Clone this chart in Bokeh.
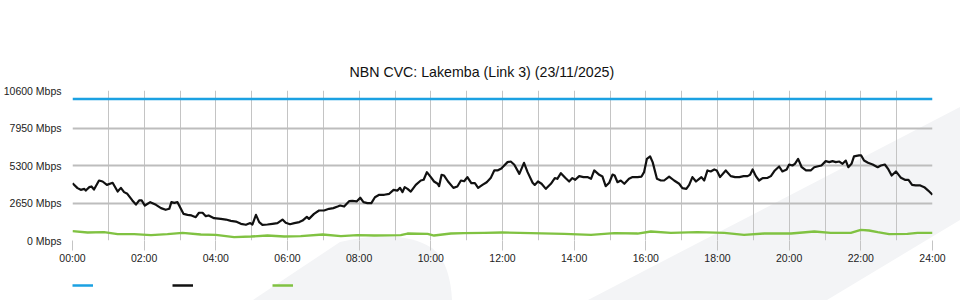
from urllib.parse import quote

from bokeh.plotting import figure
from bokeh.layouts import column
from bokeh.models import FixedTicker, Legend, LegendItem
from bokeh.core.properties import value
from bokeh.embed import file_html
from bokeh.resources import INLINE

# ---------------- data ----------------
title_text = "NBN CVC: Lakemba (Link 3) (23/11/2025)"

capacity_hours = [0, 24]
capacity_mbps = [10000, 10000]

black_hours = [
    0.00, 0.14, 0.23, 0.33, 0.37, 0.47, 0.53, 0.60, 0.74, 0.84, 0.96, 1.12, 1.26, 1.35, 1.44, 1.53,
    1.67, 1.77, 1.86, 1.93, 2.02, 2.17, 2.33, 2.47, 2.60, 2.70, 2.76, 2.84, 2.93, 3.10, 3.21, 3.32,
    3.44, 3.53, 3.63, 3.72, 3.80, 3.95, 4.14, 4.28, 4.42, 4.56, 4.70, 4.84, 4.96, 5.02, 5.12, 5.21,
    5.30, 5.44, 5.58, 5.72, 5.86, 5.95, 6.07, 6.19, 6.33, 6.42, 6.54, 6.60, 6.74, 6.88, 7.02, 7.16,
    7.28, 7.40, 7.47, 7.58, 7.72, 7.81, 7.93, 8.03, 8.12, 8.23, 8.34, 8.44, 8.56, 8.70, 8.84, 8.96,
    9.07, 9.14, 9.21, 9.27, 9.35, 9.44, 9.58, 9.72, 9.80, 9.89, 10.00, 10.09, 10.19, 10.23, 10.30,
    10.37, 10.48, 10.63, 10.74, 10.84, 10.93, 11.02, 11.13, 11.23, 11.32, 11.44, 11.56, 11.67, 11.77,
    11.86, 11.98, 12.00, 12.14, 12.23, 12.33, 12.47, 12.60, 12.70, 12.84, 12.90, 12.99, 13.09, 13.21,
    13.35, 13.46, 13.53, 13.63, 13.75, 13.86, 13.95, 14.03, 14.14, 14.26, 14.37, 14.47, 14.56, 14.70,
    14.79, 14.88, 14.98, 15.07, 15.13, 15.21, 15.30, 15.40, 15.53, 15.63, 15.77, 15.88, 15.95, 16.03,
    16.12, 16.19, 16.31, 16.42, 16.51, 16.65, 16.79, 16.93, 17.02, 17.13, 17.21, 17.30, 17.40, 17.49,
    17.55, 17.63, 17.72, 17.81, 17.91, 17.98, 18.07, 18.23, 18.37, 18.49, 18.61, 18.73, 18.84, 18.91,
    18.98, 19.07, 19.16, 19.26, 19.40, 19.49, 19.60, 19.72, 19.81, 19.93, 20.00, 20.09, 20.16, 20.25,
    20.35, 20.47, 20.60, 20.70, 20.81, 20.90, 21.02, 21.12, 21.21, 21.30, 21.40, 21.49, 21.58, 21.65,
    21.74, 21.81, 21.95, 22.01, 22.09, 22.20, 22.33, 22.47, 22.56, 22.67, 22.77, 22.86, 22.98, 23.12,
    23.23, 23.33, 23.43, 23.53, 23.66, 23.77, 23.88, 24.00,
]
black_mbps = [
    4050, 3700, 3580, 3650, 3530, 3770, 3820, 3600, 4240, 4170, 3930, 4080, 3460, 3720, 3420, 3300,
    2830, 2540, 2830, 2830, 2470, 2710, 2520, 2290, 2170, 2240, 2710, 2660, 2710, 1880, 1810, 1770,
    1650, 1960, 1960, 1720, 1770, 1580, 1530, 1480, 1390, 1340, 1180, 1110, 1230, 1130, 1810, 1300,
    1110, 1130, 1180, 1230, 1480, 1250, 1150, 1230, 1300, 1410, 1670, 1530, 1880, 2120, 2120, 2240,
    2290, 2400, 2470, 2400, 2780, 2800, 2760, 3020, 2710, 2640, 2640, 3060, 3230, 3230, 3300, 3580,
    3530, 3720, 3420, 3770, 3650, 3460, 3930, 4240, 4290, 4830, 4480, 4170, 4010, 3840, 4640,
    4590, 4170, 3720, 3820, 4240, 4190, 4480, 4050, 4050, 3720, 3930, 4120, 4410, 4950,
    4950, 5110, 5180, 5540, 5580, 5350, 4710, 5490, 4830, 4080, 3930, 4170, 4010, 3650,
    4010, 4410, 4360, 4760, 4430, 4170, 4410, 4290, 4550, 4480, 4480, 4360, 4950, 4640,
    4520, 3840, 4080, 4660, 4590, 4120, 4240, 4010, 4360, 4480, 4480, 4520, 4830, 5770,
    5940, 5540, 4360, 4240, 4240, 4520, 4240, 4010, 3700, 3650, 3930, 4480, 4170, 4360,
    4480, 4240, 4950, 4880, 5020, 4950, 4480, 4950, 4550, 4480, 4480, 4550, 4550, 4640,
    5020, 4550, 4240, 4410, 4430, 4550, 4950, 5230, 4880, 5020, 5370, 5300, 5420, 5770,
    5180, 4950, 4950, 5180, 5250, 5300, 5610, 5540, 5610, 5540, 5580, 5420, 5650, 5180,
    5420, 5940, 6010, 6010, 5650, 5490, 5370, 5180, 5300, 5370, 5020, 4590, 4880, 4430,
    4290, 4290, 3930, 3890, 3890, 3770, 3530, 3230,
]

green_hours = [
    0.00, 0.42, 0.88, 1.26, 1.72, 2.19, 2.65, 3.07, 3.58, 4.00, 4.51, 4.98, 5.44, 5.91, 6.37, 6.98,
    7.49, 7.95, 8.42, 9.16, 9.35, 9.91, 10.09, 10.56, 10.93, 11.49, 11.98, 12.79, 13.72, 14.47, 15.12,
    15.77, 16.14, 16.70, 17.44, 18.19, 18.74, 19.30, 20.05, 20.70, 21.16, 21.72, 22.00, 22.23, 22.47,
    22.79, 23.30, 23.58, 24.00,
]
green_mbps = [
    660, 570, 590, 450, 450, 380, 450, 540, 420, 400, 240, 280, 350, 280, 310, 420,
    310, 380, 350, 380, 490, 470, 350, 490, 520, 540, 570, 520, 470, 400, 520,
    490, 640, 540, 590, 540, 400, 490, 490, 640, 540, 540, 750, 710, 590,
    450, 470, 540, 540,
]

y_ticks = [0, 2650, 5300, 7950, 10600]
y_tick_labels = ["0 Mbps", "2650 Mbps", "5300 Mbps", "7950 Mbps", "10600 Mbps"]
x_ticks = list(range(0, 25, 2))
x_tick_labels = ["00:00", "02:00", "04:00", "06:00", "08:00", "10:00", "12:00",
                 "14:00", "16:00", "18:00", "20:00", "22:00", "24:00"]
x_grid_hours = list(range(0, 25))

series_colors = ["#1ba1e2", "#111111", "#80c242"]

# ---------------- main chart ----------------
FONT = "Liberation Sans"

p = figure(frame_width=860, frame_height=150, x_range=(0, 24), y_range=(0, 10600),
           output_backend="svg", toolbar_location=None,
           min_border_left=70, min_border_right=30, min_border_top=90, min_border_bottom=28)

p.background_fill_color = None
p.border_fill_color = None
p.outline_line_color = None

p.title.text = title_text
p.title.align = "left"
p.title.offset = 277
p.title.text_font = FONT
p.title.text_font_size = "14.2px"
p.title.text_font_style = "normal"
p.title.text_color = "#111111"
p.title.standoff = 21

# axes
p.xaxis.ticker = FixedTicker(ticks=x_ticks)
p.xaxis.major_label_overrides = {t: l for t, l in zip(x_ticks, x_tick_labels)}
p.xaxis.axis_line_color = None
p.xaxis.major_tick_line_color = "#c4c4c4"
p.xaxis.major_tick_out = 10
p.xaxis.major_tick_in = 0
p.xaxis.minor_tick_line_color = None
p.xaxis.minor_tick_out = 0
p.xaxis.major_label_standoff = 1
p.xaxis.major_label_text_font = FONT
p.xaxis.major_label_text_font_size = "10.5px"
p.xaxis.major_label_text_color = "#222222"

p.yaxis.ticker = FixedTicker(ticks=y_ticks)
p.yaxis.major_label_overrides = {t: l for t, l in zip(y_ticks, y_tick_labels)}
p.yaxis.axis_line_color = None
p.yaxis.major_tick_line_color = None
p.yaxis.minor_tick_line_color = None
p.yaxis.major_tick_out = 0
p.yaxis.major_tick_in = 0
p.yaxis.minor_tick_out = 0
p.yaxis.major_label_standoff = 11
p.yaxis.major_label_text_font = FONT
p.yaxis.major_label_text_font_size = "10.5px"
p.yaxis.major_label_text_color = "#222222"

# grids
p.xgrid.ticker = FixedTicker(ticks=x_grid_hours)
p.xgrid.grid_line_color = "#c4c4c4"
p.xgrid.grid_line_width = 1
p.ygrid.ticker = FixedTicker(ticks=y_ticks)
p.ygrid.grid_line_color = "#bdbdbd"
p.ygrid.grid_line_width = 2

# series
p.line(capacity_hours, capacity_mbps, line_color=series_colors[0], line_width=2.5)
p.line(black_hours, black_mbps, line_color=series_colors[1], line_width=2.2, line_join="round")
p.line(green_hours, green_mbps, line_color=series_colors[2], line_width=2.4, line_join="round")

# ---------------- legend strip (unlabelled swatches) ----------------
lg = figure(width=960, height=32, x_range=(0, 1), y_range=(0, 1),
            output_backend="svg", toolbar_location=None,
            x_axis_location=None, y_axis_location=None,
            min_border_left=68, min_border_top=12, min_border_right=0, min_border_bottom=0)
lg.background_fill_color = None
lg.border_fill_color = None
lg.outline_line_color = None
lg.grid.visible = False

swatches = [lg.line([0, 1], [-5, -5], line_color=c, line_width=2.5) for c in series_colors]
legend = Legend(
    items=[LegendItem(label=value(" "), renderers=[r]) for r in swatches],
    orientation="horizontal", location="top_left",
    glyph_width=21, glyph_height=10, label_width=79, label_height=10, label_standoff=0,
    label_text_font_size="1px", spacing=0, padding=0, margin=0,
    border_line_color=None, background_fill_alpha=0,
)
lg.add_layout(legend)

# faint watermark shapes behind the whole chart
svg = ('<svg xmlns="http://www.w3.org/2000/svg" width="960" height="300">'
       '<polygon points="588,300 960,107 960,220 827,300" fill="#f3f4f6"/>'
       '<path d="M253,300 L340,242 Q400,228 432,248 Q450,262 452,300 Z" fill="#f3f4f6"/>'
       '</svg>')
layout = column(p, lg, spacing=0)
layout.styles = {"background-image": 'url("data:image/svg+xml,' + quote(svg) + '")',
                 "background-repeat": "no-repeat", "background-size": "960px 300px"}

open("out.html", "w").write(file_html(layout, INLINE))
